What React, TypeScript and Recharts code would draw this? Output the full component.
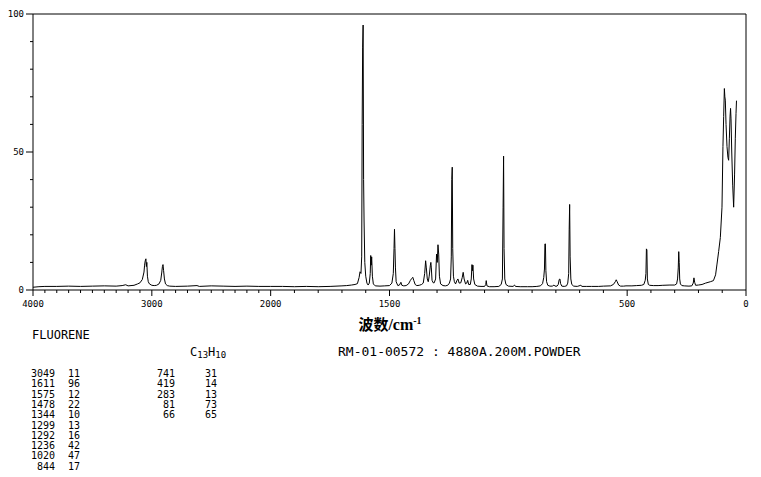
import { Line, LineChart, ReferenceLine, XAxis, YAxis } from "recharts";

// Raman spectrum of fluorene, [wavenumber cm-1, intensity]
const chStretchRegion: [number, number][] = [
  [4000, 1.0], [3950, 1.2], [3900, 1.3], [3800, 1.3], [3700, 1.4], [3600, 1.3],
  [3500, 1.4], [3400, 1.5], [3300, 1.4], [3250, 1.6], [3220, 1.9], [3200, 1.5],
  [3150, 1.7], [3120, 2.2], [3100, 2.6], [3080, 3.8], [3066, 6.5], [3061, 9.0],
  [3056, 10.5], [3050, 11.3], [3046, 8.5], [3042, 10.0], [3037, 5.0], [3030, 3.0],
  [3020, 2.2], [3000, 1.7], [2980, 1.6], [2960, 1.7], [2940, 2.2], [2925, 3.5],
  [2916, 6.5], [2911, 8.5], [2906, 9.2], [2901, 7.0], [2894, 4.0], [2885, 2.2],
  [2870, 1.6], [2850, 1.4], [2800, 1.3], [2700, 1.4], [2620, 1.6], [2600, 1.3],
  [2500, 1.5], [2400, 1.4], [2300, 1.3], [2200, 1.4], [2100, 1.3], [2000, 1.3],
];

const fingerprintRegion: [number, number][] = [
  [1950, 1.3], [1900, 1.2], [1850, 1.3], [1800, 1.2], [1750, 1.3], [1700, 1.5],
  [1680, 1.6], [1660, 1.8], [1645, 2.0], [1635, 2.3], [1628, 4.5], [1624, 6.6],
  [1620, 6.0], [1617, 12], [1615, 60], [1613, 88], [1611, 96], [1609, 40],
  [1607, 25], [1604, 10], [1600, 5], [1595, 2.5], [1590, 1.8], [1585, 2.5],
  [1581, 6], [1579, 12.5], [1577, 9], [1575, 12], [1572, 5], [1568, 2.2],
  [1560, 1.5], [1540, 1.4], [1520, 1.5], [1500, 1.6], [1490, 2.5], [1484, 6],
  [1481, 15], [1479, 22], [1477, 15], [1475, 8], [1472, 3], [1465, 1.6],
  [1458, 1.8], [1452, 2.8], [1448, 1.7], [1440, 1.5], [1430, 1.6], [1420, 2.2],
  [1412, 3.5], [1406, 4.2], [1402, 4.6], [1398, 3.5], [1392, 2.0], [1385, 1.6],
  [1375, 1.7], [1365, 2.0], [1358, 2.5], [1352, 6], [1348, 10.6], [1345, 8],
  [1341, 4], [1337, 3], [1333, 5], [1328, 9], [1326, 10], [1324, 8],
  [1321, 3.5], [1316, 2.6], [1312, 2.6], [1306, 4], [1302, 13], [1299, 10],
  [1296, 16.4], [1293, 13], [1290, 5], [1285, 2.2], [1275, 1.6], [1265, 1.5],
  [1255, 1.7], [1248, 2.5], [1243, 4], [1240, 12], [1238, 40], [1236, 44.5],
  [1234, 15], [1231, 5], [1227, 3], [1222, 2.2], [1216, 3.5], [1212, 4],
  [1207, 2.5], [1200, 2.6], [1194, 4.5], [1190, 6.4], [1186, 4], [1180, 2.2],
  [1175, 2.5], [1171, 3.5], [1167, 2.0], [1160, 2.0], [1156, 4], [1153, 9.2],
  [1151, 7], [1149, 9], [1146, 4], [1141, 2], [1130, 1.4], [1115, 1.3],
  [1100, 1.3], [1095, 2.0], [1093, 3.4], [1090, 1.5], [1080, 1.2], [1060, 1.2],
  [1040, 1.3], [1030, 2.0], [1025, 4], [1022, 30], [1020, 48.5], [1018, 15],
  [1015, 4], [1010, 2], [1000, 1.4], [980, 1.3], [974, 1.8], [970, 1.3],
  [950, 1.2], [920, 1.2], [900, 1.2], [880, 1.3], [865, 1.5], [856, 2.3],
  [851, 4.5], [848, 7.6], [846, 16.7], [844, 16.7], [842, 7], [839, 3],
  [834, 1.7], [825, 1.4], [815, 1.4], [808, 1.8], [804, 1.4], [795, 1.4],
  [790, 2], [786, 3.8], [783, 4], [780, 2.3], [775, 1.4], [765, 1.3],
  [755, 1.5], [750, 2.5], [746, 6], [744, 21.8], [742, 31], [740, 12],
  [737, 4], [733, 2], [725, 1.4], [710, 1.3], [695, 1.7], [690, 1.3],
  [670, 1.3], [650, 1.3], [620, 1.3], [600, 1.4], [570, 1.5], [558, 2.0],
  [550, 3.0], [546, 3.7], [542, 3.0], [536, 1.8], [528, 1.4], [515, 1.4],
];

const lowRegion: [number, number][] = [
  [505, 1.5], [480, 1.5], [460, 1.6], [440, 1.7], [430, 2.0], [424, 3.5],
  [421, 6], [419, 14.9], [417, 14.5], [415, 4], [411, 2], [405, 1.7],
  [390, 1.6], [370, 1.6], [350, 1.7], [320, 1.8], [300, 1.8], [292, 2.2],
  [288, 4], [285, 8], [283, 13.9], [281, 10], [279, 4], [276, 2.2],
  [270, 1.6], [260, 1.5], [240, 1.4], [228, 1.5], [222, 2.5], [219, 4.4],
  [216, 2.8], [212, 1.7], [200, 1.8], [185, 2.0], [170, 2.5], [150, 3.0],
  [137, 3.4], [128, 5.5], [122, 9.4], [115, 14], [108, 19], [101, 30],
  [97, 52], [94, 62.8], [91, 73], [89, 70], [87, 68.8], [84, 60],
  [80, 52], [76, 48], [73, 47], [70, 55], [67, 63], [65, 65.8],
  [63, 62], [60, 50], [56, 38], [52, 30], [48, 42], [45, 55],
  [42, 64], [40, 68.6],
];

const xTickValues = [
  4000, 3900, 3800, 3700, 3600, 3500, 3400, 3300, 3200, 3100, 3000, 2900, 2800,
  2700, 2600, 2500, 2400, 2300, 2200, 2100, 2000, 1900, 1800, 1700, 1600, 1500,
  1400, 1300, 1200, 1100, 1000, 900, 800, 700, 600, 500, 400, 300, 200, 100, 0,
];
const xTickLabels = [4000, 3000, 2000, 1500, 500, 0];
const yTickValues = [0, 10, 20, 30, 40, 50, 60, 70, 80, 90, 100];
const yTickLabels = [0, 50, 100];

const peakWavenumbers = [3049, 1611, 1575, 1478, 1344, 1299, 1292, 1236, 1020, 844, 741, 419, 283, 81, 66];
const peakIntensities = [11, 96, 12, 22, 10, 13, 16, 42, 47, 17, 31, 14, 13, 73, 65];

// the original chart is compressed 2x above 2000 cm-1
const toAxis = (w: number) => (w <= 2000 ? w : 2000 + (w - 2000) / 2);

const data = [...chStretchRegion, ...fingerprintRegion, ...lowRegion].map(([w, v]) => ({
  u: toAxis(w),
  v,
}));

const mono = "'DejaVu Sans Mono', monospace";

const XTick = (props: any) => {
  const { x, y, payload } = props;
  const w = xTickValues.find((t) => toAxis(t) === payload.value) ?? 0;
  const major = xTickLabels.includes(w);
  return (
    <g>
      <line x1={x} x2={x} y1={y} y2={y + (major ? 6 : 3)} stroke="#000" />
      {major && (
        <text x={x} y={y + 17} textAnchor="middle" fontSize={9} fontFamily={mono} fill="#000">
          {w}
        </text>
      )}
    </g>
  );
};

const YTick = (props: any) => {
  const { x, y, payload } = props;
  const major = yTickLabels.includes(payload.value);
  return (
    <g>
      <line x1={x - (major ? 7 : 3)} x2={x} y1={y} y2={y} stroke="#000" />
      {major && (
        <text x={x - 9} y={y + 3} textAnchor="end" fontSize={9} fontFamily={mono} fill="#000">
          {payload.value}
        </text>
      )}
    </g>
  );
};

export default function App() {
  const leftRows = peakWavenumbers.slice(0, 10);
  const rightRows = peakWavenumbers.slice(10);
  return (
    <div style={{ position: "absolute", left: 0, top: 0, width: 761, height: 477, background: "#fff" }}>
      <LineChart width={761} height={477} data={data} margin={{ top: 14, right: 15, left: 0, bottom: 167 }}>
        <XAxis
          dataKey="u"
          type="number"
          domain={[0, 3000]}
          reversed
          ticks={xTickValues.map(toAxis)}
          interval={0}
          tick={<XTick />}
          tickLine={false}
          tickSize={0}
          tickMargin={0}
          axisLine={{ stroke: "#000" }}
          height={20}
        />
        <YAxis
          type="number"
          domain={[0, 100]}
          ticks={yTickValues}
          interval={0}
          tick={<YTick />}
          tickLine={false}
          tickSize={0}
          tickMargin={0}
          axisLine={{ stroke: "#000" }}
          width={33}
        />
        <ReferenceLine y={100} stroke="#000" />
        <ReferenceLine x={0} stroke="#000" />
        <Line
          type="linear"
          dataKey="v"
          stroke="#000"
          strokeWidth={1}
          dot={false}
          isAnimationActive={false}
        />
      </LineChart>
      <svg
        width={761}
        height={477}
        style={{ position: "absolute", left: 0, top: 0, pointerEvents: "none" }}
      >
        <text x={390} y={330} textAnchor="middle" fill="#000" fontWeight="bold">
          <tspan fontFamily="'Noto Sans CJK SC'" fontSize={15}>波数</tspan>
          <tspan fontFamily="'Liberation Serif', serif" fontSize={16}>/cm</tspan>
          <tspan fontFamily="'Liberation Serif', serif" fontSize={10} dy={-6}>-1</tspan>
        </text>
        <text x={32} y={339} fontFamily={mono} fontSize={12} fill="#000">
          FLUORENE
        </text>
        <text x={190} y={356} fontFamily={mono} fontSize={12} fill="#000">
          <tspan>C</tspan>
          <tspan fontSize={9} dy={2}>13</tspan>
          <tspan dy={-2}>H</tspan>
          <tspan fontSize={9} dy={2}>10</tspan>
        </text>
        <text x={338} y={356} fontFamily={mono} fontSize={13} fill="#000">
          RM-01-00572 : 4880A.200M.POWDER
        </text>
        {leftRows.map((w, i) => (
          <g key={w}>
            <text x={55} y={377 + i * 10.3} textAnchor="end" fontFamily={mono} fontSize={10} fill="#000">
              {w}
            </text>
            <text x={68} y={377 + i * 10.3} fontFamily={mono} fontSize={10} fill="#000">
              {peakIntensities[i]}
            </text>
          </g>
        ))}
        {rightRows.map((w, i) => (
          <g key={w}>
            <text x={175} y={377 + i * 10.3} textAnchor="end" fontFamily={mono} fontSize={10} fill="#000">
              {w}
            </text>
            <text x={205} y={377 + i * 10.3} fontFamily={mono} fontSize={10} fill="#000">
              {peakIntensities[i + 10]}
            </text>
          </g>
        ))}
      </svg>
    </div>
  );
}
